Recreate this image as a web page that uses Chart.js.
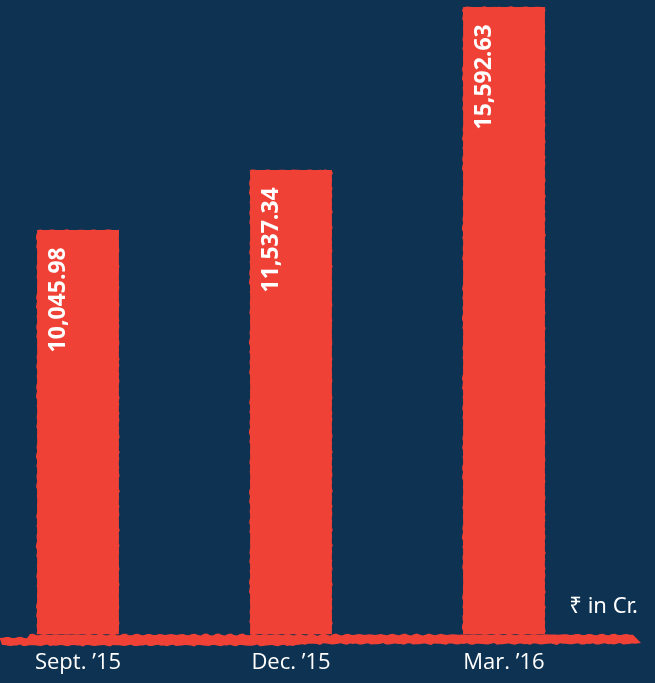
<!DOCTYPE html>
<html>
<head>
<meta charset="utf-8">
<script src="https://cdn.jsdelivr.net/npm/chart.js@4/dist/chart.umd.min.js"></script>
<style>
  html, body { margin: 0; padding: 0; background: #0d3252; }
  #wrap { width: 655px; height: 683px; position: relative; }
  canvas { display: block; }
</style>
</head>
<body>
<div id="wrap"><canvas id="c" width="655" height="683"></canvas></div>
<script>
// Quarter-end figures, ₹ in crore
const periods = ['Sept. \u201915', 'Dec. \u201915', 'Mar. \u201916'];
const amounts = [10045.98, 11537.34, 15592.63];
const unitNote = '\u20B9 in Cr.';

const NAVY = '#0d3252';
const RED = '#ef4136';

const fmt = v => v.toLocaleString('en-US', { minimumFractionDigits: 2, maximumFractionDigits: 2 });

// small deterministic wobble for the hand-painted edges
const wob = (t, a) => a * (Math.sin(t * 0.9) * 0.5 + Math.sin(t * 2.7 + 1.3) * 0.3 + Math.sin(t * 6.1 + 0.4) * 0.2);

// Rough, brush-like edges around each bar
const roughBarsPlugin = {
  id: 'roughBars',
  afterDatasetsDraw(chart) {
    const ctx = chart.ctx;
    const meta = chart.getDatasetMeta(0);
    ctx.save();
    ctx.fillStyle = RED;
    meta.data.forEach((bar, i) => {
      const half = bar.width / 2;
      const L = bar.x - half, R = bar.x + half, T = bar.y, B = bar.base;
      ctx.beginPath();
      ctx.moveTo(L, B);
      for (let y = B; y >= T; y -= 3) ctx.lineTo(L - 0.5 + wob(y * 0.7 + i * 17, 1.3), y);
      for (let x = L; x <= R; x += 3) ctx.lineTo(x, T - 0.3 + wob(x * 0.5 + i * 11, 0.8));
      for (let y = T; y <= B; y += 3) ctx.lineTo(R + 0.3 + wob(y * 0.9 + i * 7, 1.2), y);
      ctx.lineTo(R, B);
      ctx.closePath();
      ctx.fill();
    });
    ctx.restore();
  }
};

// Brush-stroke baseline under the bars
const baselinePlugin = {
  id: 'baseline',
  afterDatasetsDraw(chart) {
    const ctx = chart.ctx;
    const y0 = chart.scales.y.getPixelForValue(0);
    const end = 641;
    ctx.save();
    ctx.fillStyle = RED;
    ctx.beginPath();
    ctx.moveTo(0, y0 + 5);
    for (let x = 0; x <= end - 6; x += 3) {
      ctx.lineTo(x, y0 + 0.5 + (x < 30 ? 3 : 0) + wob(x * 0.6, 1.3));
    }
    ctx.lineTo(end, y0 + 9);
    for (let x = end - 6; x >= 0; x -= 3) {
      ctx.lineTo(x, y0 + 11.5 + wob(x * 0.5 + 3, 1.1) - (x > 300 ? 1.5 : 0));
    }
    ctx.closePath();
    ctx.fill();
    ctx.restore();
  }
};

// Rotated value labels near the top of each bar
const valueLabelPlugin = {
  id: 'valueLabels',
  afterDatasetsDraw(chart) {
    const ctx = chart.ctx;
    const meta = chart.getDatasetMeta(0);
    ctx.save();
    ctx.fillStyle = '#ffffff';
    ctx.font = 'bold 23px "Open Sans", "Noto Sans", sans-serif';
    ctx.textAlign = 'right';
    ctx.textBaseline = 'middle';
    meta.data.forEach((bar, i) => {
      ctx.save();
      ctx.translate(bar.x - 20, bar.y + 17);
      ctx.rotate(-Math.PI / 2);
      ctx.fillText(fmt(amounts[i]), 0, 0);
      ctx.restore();
    });
    ctx.restore();
  }
};

// Unit note at the lower right
const unitPlugin = {
  id: 'unitNote',
  afterDraw(chart) {
    const ctx = chart.ctx;
    ctx.save();
    ctx.fillStyle = '#ffffff';
    ctx.font = '22px "Noto Sans", "Open Sans", sans-serif';
    ctx.textAlign = 'right';
    ctx.textBaseline = 'alphabetic';
    ctx.fillText(unitNote, 638, 613);
    ctx.restore();
  }
};

new Chart(document.getElementById('c'), {
  type: 'bar',
  data: {
    labels: periods,
    datasets: [{
      data: amounts,
      backgroundColor: RED,
      borderWidth: 0,
      barThickness: 81,
      clip: false
    }]
  },
  options: {
    responsive: false,
    devicePixelRatio: 1,
    animation: false,
    layout: { padding: { left: 78, right: 151, top: 7, bottom: 0 } },
    plugins: { legend: { display: false }, tooltip: { enabled: false } },
    scales: {
      x: {
        offset: false,
        grid: { display: false, drawTicks: false },
        border: { display: false },
        afterFit(scale) { scale.height = 49; },
        ticks: {
          color: '#ffffff',
          padding: 16,
          maxRotation: 0,
          font: { family: '"Open Sans", "Noto Sans", sans-serif', size: 22 }
        }
      },
      y: {
        display: false,
        min: 0,
        max: 15600
      }
    }
  },
  plugins: [roughBarsPlugin, baselinePlugin, valueLabelPlugin, unitPlugin]
});
</script>
</body>
</html>
